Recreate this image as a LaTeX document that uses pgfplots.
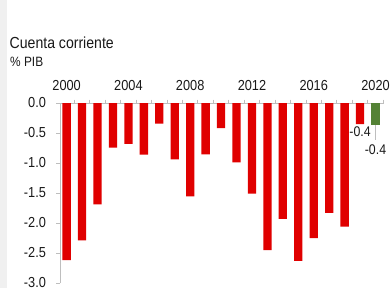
\documentclass[border=0pt]{standalone}
\usepackage{fontspec}
\setmainfont{Liberation Sans}[FakeStretch=0.88]
\usepackage{pgfplots}
\pgfplotsset{compat=1.18}
\definecolor{barred}{RGB}{224,0,0}
\definecolor{bargreen}{RGB}{84,130,53}
\definecolor{axgrey}{RGB}{190,190,190}
\definecolor{txt}{RGB}{25,25,25}
\definecolor{strip}{RGB}{240,240,240}
\begin{document}
\begin{tikzpicture}
\useasboundingbox (0bp,0bp) rectangle (390bp,-288bp);
\fill[white] (0bp,0bp) rectangle (390bp,-288bp);
\fill[strip] (0bp,0bp) rectangle (7bp,-288bp);
\node[anchor=base west, inner sep=0, text=txt, font=\fontsize{16bp}{18bp}\selectfont] at (9.5bp,-48bp) {Cuenta corriente};
\node[anchor=base west, inner sep=0, text=txt, font=\fontsize{13.5bp}{15bp}\selectfont] at (10bp,-66bp) {\% PIB};
\begin{axis}[
  at={(60bp,-103bp)}, anchor=north west,
  scale only axis, width=324bp, height=180bp,
  xmin=1999.57, xmax=2020.55, ymin=-3, ymax=0,
  axis x line*=top, axis y line*=left,
  axis line style={axgrey, line width=0.8pt},
  every outer x axis line/.append style={-}, every outer y axis line/.append style={-},
  xtick={2000,2004,2008,2012,2016,2020},
  xticklabels={2000,2004,2008,2012,2016,2020},
  minor xtick={2000.5,2001.5,...,2020.5},
  major x tick style={draw=none},
  minor x tick style={axgrey, line width=0.8pt},
  minor tick length=3.5bp,
  ytick={0,-0.5,-1,-1.5,-2,-2.5,-3},
  y tick style={axgrey, line width=0.8pt},
  major tick length=4bp,
  tick align=outside,
  /pgf/number format/assume math mode=true,
  y tick label style={/pgf/number format/fixed, /pgf/number format/fixed zerofill, /pgf/number format/precision=1},
  ticklabel style={text=txt, font=\fontsize{14.5bp}{16bp}\selectfont},
  yticklabel style={anchor=east, xshift=-6.5bp},
  xticklabel style={anchor=base, yshift=9bp},
  ybar, bar width=8.3bp, bar shift=0pt,
  clip=false,
]
\addplot[fill=barred, draw=none] coordinates {
(2000,-2.62) (2001,-2.29) (2002,-1.69) (2003,-0.745) (2004,-0.68)
(2005,-0.86) (2006,-0.345) (2007,-0.94) (2008,-1.555) (2009,-0.855)
(2010,-0.417) (2011,-0.99) (2012,-1.51) (2013,-2.45) (2014,-1.93)
(2015,-2.63) (2016,-2.25) (2017,-1.83) (2018,-2.06) (2019,-0.35)};
\addplot[fill=bargreen, draw=none] coordinates {(2020,-0.36)};
\draw[axgrey, line width=0.8pt] (axis cs:2020,-0.37) -- (axis cs:2020,-0.62);
\node[text=txt, font=\fontsize{14bp}{15bp}\selectfont, inner sep=0] at (axis cs:2019,-0.48) {-0.4};
\node[text=txt, font=\fontsize{14bp}{15bp}\selectfont, inner sep=0] at (axis cs:2020,-0.77) {-0.4};
\end{axis}
\end{tikzpicture}
\end{document}
